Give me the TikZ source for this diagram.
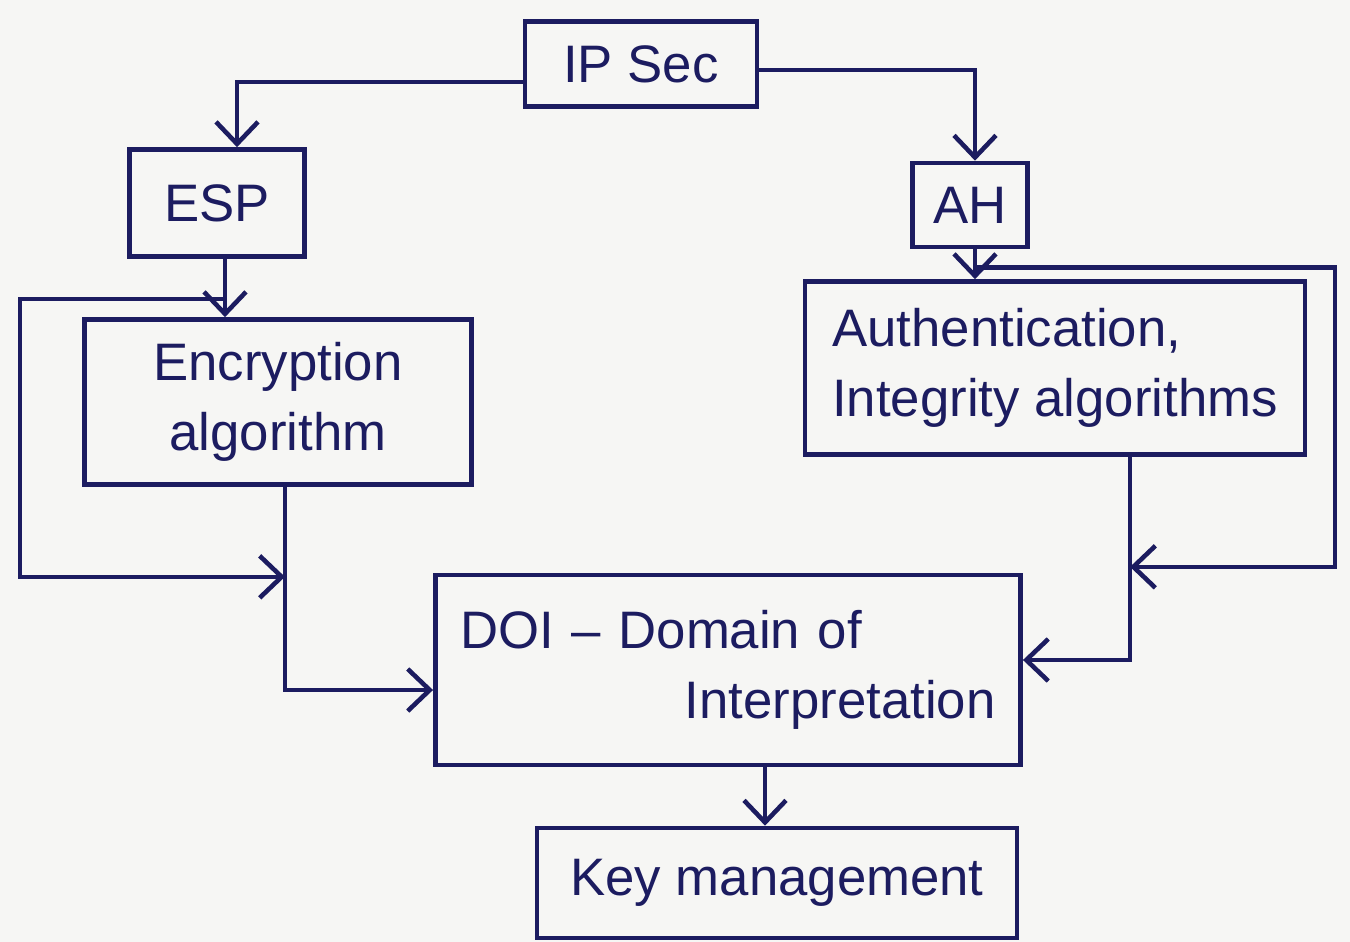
\documentclass[tikz,border=0pt]{standalone}
\usepackage{fontspec}
\setmainfont{Liberation Sans}
\usetikzlibrary{arrows.meta}
\definecolor{ink}{RGB}{28,28,96}
\definecolor{paper}{RGB}{246,246,244}
\begin{document}
\begin{tikzpicture}[x=0.01cm,y=-0.01cm,
  box/.style={draw=ink, line width=1.3pt, inner sep=0pt, text=ink,
    font=\fontsize{15}{20}\selectfont},
  link/.style={draw=ink, line width=1.3pt,
    -{Straight Barb[length=2.2mm,width=4.2mm]}},
]
\fill[paper] (0,0) rectangle (1350,942);
\useasboundingbox (0,0) rectangle (1350,942);

% blocks
\node[box, minimum width=2.32cm, minimum height=0.85cm] (ipsec) at (641,64) {IP Sec};
\node[box, minimum width=1.75cm, minimum height=1.07cm] (esp) at (217,203) {ESP};
\node[box, minimum width=1.15cm, minimum height=0.84cm] (ah) at (970,205) {AH};
\node[box, minimum width=3.87cm, minimum height=1.65cm, align=center] (enc) at (278,402)
  {Encryption\\algorithm};
\node[box, minimum width=5.00cm, minimum height=1.73cm, align=left] (auth) at (1055,368)
  {Authentication,\\Integrity algorithms};
\node[box, minimum width=5.85cm, minimum height=1.90cm, text width=5.35cm, align=left] (doi) at (728,670)
  {DOI -- Domain of\\\hspace*{\fill}Interpretation};
\node[box, minimum width=4.80cm, minimum height=1.10cm] (key) at (777,883) {Key management};

% helper points for the bypass lines
\path ([xshift=0.08cm]esp.south) ++(0,40) coordinate (lsplit);
\coordinate (lwest) at (20,0);
\path ([xshift=0.07cm]enc.south) ++(0,90) coordinate (lmerge);
\path ([xshift=0.05cm]ah.south) ++(0,18) coordinate (rsplit);
\coordinate (reast) at (1335,0);
\path ([xshift=0.75cm]auth.south) ++(0,110) coordinate (rmerge);

% connectors
\draw[link] ([yshift=-0.18cm]ipsec.west) -| ([xshift=0.2cm]esp.north);
\draw[link] ([yshift=-0.06cm]ipsec.east) -| ([xshift=0.05cm]ah.north);
\draw[link] ([xshift=0.08cm]esp.south) -- ([xshift=0.08cm]esp.south |- enc.north);
\draw[link] ([xshift=0.05cm]ah.south) -- ([xshift=0.05cm]ah.south |- auth.north);
\draw[link] ([xshift=0.07cm]enc.south) |- ([yshift=-0.2cm]doi.west);
\draw[link] ([xshift=0.75cm]auth.south) |- ([yshift=0.1cm]doi.east);
\draw[link] (lsplit) -- (lsplit -| lwest) |- (lmerge);
\draw[link] (rsplit) -- (rsplit -| reast) |- (rmerge);
\draw[link] ([xshift=0.37cm]doi.south) -- ([xshift=0.37cm]doi.south |- key.north);
\end{tikzpicture}
\end{document}
